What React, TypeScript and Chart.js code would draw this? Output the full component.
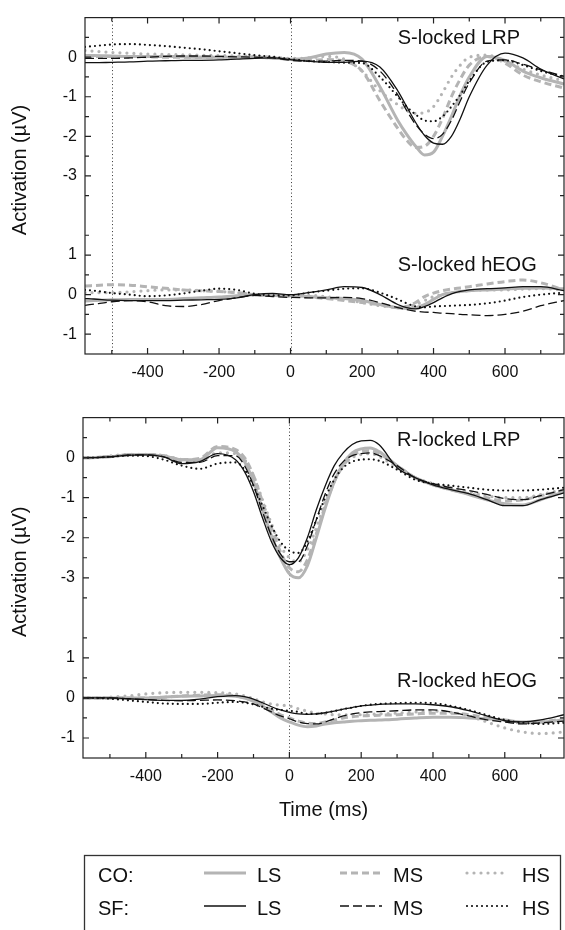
import React, { useEffect, useRef } from "react";
import { Chart, registerables } from "chart.js";

Chart.register(...registerables);

const FONT = '"Liberation Sans", Arial, Helvetica, sans-serif';
const INK = "#111111";
const GRAY = "#b4b4b4";

// ---------- axes ----------
const X_MIN = -575;
const X_MAX = 765;
const xTickLabels = [-400, -200, 0, 200, 400, 600];
const xMinorTicks = [-500, -300, -100, 100, 300, 500, 700];
const lrpTickLabels = [0, -1, -2, -3];
const lrpMinorTicks = [0.5, -0.5, -1.5, -2.5, -3.5];
const eogTickLabels = [1, 0, -1];
const eogMinorTicks = [1.5, 0.5, -0.5];
const EOG_SHIFT = -6; // hEOG traces are stacked 6 µV below the LRP traces on one axis

// ---------- S-locked data ----------
const tS = [-575, -550, -500, -450, -400, -350, -300, -250, -200, -150, -100, -50, 0, 50, 100, 150, 200, 250, 300, 325, 350, 375, 400, 425, 450, 475, 500, 550, 600, 650, 700, 765];

const sLrpCoLS = [0.04, 0.04, 0.03, 0.02, 0.02, 0.02, 0.01, 0.0, 0.0, 0.0, 0.0, -0.02, -0.05, -0.02, 0.08, 0.12, -0.05, -0.75, -1.6, -1.95, -2.25, -2.47, -2.4, -2.0, -1.5, -0.95, -0.5, 0.02, -0.08, -0.35, -0.52, -0.68];
const sLrpCoMS = [0.02, 0.02, 0.02, 0.02, 0.01, 0.0, 0.0, 0.0, 0.0, 0.0, 0.0, -0.02, -0.06, -0.08, -0.06, -0.1, -0.35, -1.1, -1.8, -2.1, -2.28, -2.25, -2.0, -1.55, -1.0, -0.55, -0.2, 0.02, -0.15, -0.45, -0.62, -0.78];
const sLrpCoHS = [0.17, 0.15, 0.12, 0.1, 0.08, 0.07, 0.06, 0.05, 0.04, 0.03, 0.02, 0.0, -0.03, -0.02, 0.02, -0.05, -0.35, -0.85, -1.2, -1.35, -1.42, -1.4, -1.25, -0.9, -0.5, -0.2, 0.0, 0.05, -0.1, -0.3, -0.45, -0.6];
const sLrpSfLS = [-0.14, -0.14, -0.13, -0.12, -0.1, -0.09, -0.08, -0.08, -0.07, -0.05, -0.03, -0.02, -0.06, -0.1, -0.13, -0.13, -0.1, -0.25, -0.85, -1.25, -1.65, -1.98, -2.17, -2.2, -2.0, -1.55, -1.0, -0.2, 0.1, -0.02, -0.3, -0.55];
const sLrpSfMS = [-0.03, -0.03, -0.03, -0.02, 0.0, 0.02, 0.03, 0.03, 0.02, 0.01, 0.0, -0.02, -0.08, -0.1, -0.1, -0.08, -0.1, -0.35, -0.95, -1.35, -1.7, -1.95, -2.06, -1.95, -1.6, -1.1, -0.65, -0.1, -0.07, -0.18, -0.32, -0.48];
const sLrpSfHS = [0.26, 0.28, 0.32, 0.33, 0.31, 0.28, 0.24, 0.2, 0.15, 0.1, 0.05, 0.01, -0.05, -0.1, -0.12, -0.14, -0.15, -0.5, -1.0, -1.25, -1.45, -1.6, -1.62, -1.5, -1.25, -0.95, -0.6, -0.12, -0.08, -0.2, -0.35, -0.5];

const sEogCoLS = [-0.16, -0.15, -0.13, -0.12, -0.12, -0.12, -0.1, -0.08, -0.06, -0.03, 0.0, -0.02, -0.03, -0.05, -0.08, -0.1, -0.15, -0.25, -0.33, -0.35, -0.33, -0.25, -0.12, 0.0, 0.05, 0.08, 0.1, 0.12, 0.14, 0.16, 0.17, 0.15];
const sEogCoMS = [0.22, 0.23, 0.25, 0.24, 0.2, 0.16, 0.12, 0.1, 0.08, 0.05, 0.0, -0.02, -0.04, -0.06, -0.1, -0.15, -0.2, -0.25, -0.33, -0.3, -0.2, -0.05, 0.04, 0.1, 0.14, 0.17, 0.2, 0.27, 0.33, 0.37, 0.3, 0.12];
const sEogCoHS = [0.05, 0.05, 0.05, 0.07, 0.1, 0.12, 0.12, 0.1, 0.08, 0.05, 0.0, -0.02, -0.03, -0.02, -0.05, -0.12, -0.2, -0.28, -0.32, -0.3, -0.25, -0.15, -0.05, 0.0, 0.05, 0.08, 0.1, 0.12, 0.12, 0.14, 0.15, 0.12];
const sEogSfLS = [-0.1, -0.11, -0.14, -0.15, -0.15, -0.15, -0.14, -0.13, -0.12, -0.08, 0.0, 0.03, 0.0, 0.05, 0.12, 0.2, 0.18, 0.0, -0.25, -0.33, -0.36, -0.3, -0.2, -0.08, 0.02, 0.08, 0.12, 0.15, 0.17, 0.2, 0.2, 0.1];
const sEogSfMS = [-0.27, -0.24, -0.18, -0.15, -0.18, -0.28, -0.3, -0.25, -0.15, -0.08, -0.02, -0.05, -0.07, -0.08, -0.08, -0.07, -0.1, -0.2, -0.33, -0.38, -0.42, -0.44, -0.45, -0.47, -0.48, -0.5, -0.51, -0.53, -0.5, -0.42, -0.28, -0.15];
const sEogSfHS = [0.12, 0.1, 0.04, 0.0, -0.04, -0.02, 0.03, 0.1, 0.15, 0.12, 0.02, -0.02, -0.02, 0.05, 0.1, 0.15, 0.16, 0.05, -0.12, -0.22, -0.3, -0.32, -0.3, -0.29, -0.28, -0.27, -0.26, -0.22, -0.15, -0.06, 0.0, 0.05];

// ---------- R-locked data ----------
const tR = [-575, -550, -500, -450, -400, -350, -300, -250, -200, -150, -125, -100, -75, -50, -25, 0, 25, 50, 75, 100, 125, 150, 175, 200, 225, 250, 300, 350, 400, 450, 500, 550, 600, 650, 700, 765];

const rLrpCoLS = [0, 0, 0.02, 0.07, 0.08, 0.04, -0.05, -0.05, 0.25, 0.15, -0.1, -0.6, -1.3, -1.95, -2.5, -2.9, -3.0, -2.7, -2.0, -1.25, -0.6, -0.15, 0.12, 0.22, 0.24, 0.15, -0.2, -0.5, -0.68, -0.8, -0.92, -1.05, -1.15, -1.18, -1.05, -0.85];
const rLrpCoMS = [0, 0, 0.03, 0.07, 0.08, 0.05, -0.05, -0.02, 0.28, 0.2, 0.0, -0.45, -1.1, -1.75, -2.35, -2.75, -2.85, -2.55, -1.9, -1.2, -0.6, -0.2, 0.05, 0.15, 0.17, 0.1, -0.2, -0.5, -0.68, -0.8, -0.9, -1.0, -1.08, -1.05, -0.95, -0.82];
const rLrpCoHS = [0, 0, 0.04, 0.08, 0.08, 0.05, -0.05, -0.08, 0.12, 0.1, -0.05, -0.45, -1.05, -1.65, -2.2, -2.5, -2.6, -2.3, -1.75, -1.1, -0.55, -0.2, 0.0, 0.08, 0.1, 0.03, -0.25, -0.5, -0.65, -0.75, -0.85, -0.95, -1.0, -1.0, -0.92, -0.8];
const rLrpSfLS = [0, 0, 0.02, 0.06, 0.07, 0.02, -0.15, -0.1, 0.1, -0.05, -0.35, -0.85, -1.5, -2.1, -2.5, -2.67, -2.5, -2.0, -1.3, -0.7, -0.2, 0.12, 0.33, 0.42, 0.43, 0.32, -0.25, -0.5, -0.68, -0.8, -0.9, -1.05, -1.2, -1.2, -1.05, -0.88];
const rLrpSfMS = [0, 0, 0.02, 0.06, 0.07, 0.02, -0.12, -0.12, 0.05, 0.05, -0.2, -0.7, -1.35, -1.95, -2.4, -2.6, -2.6, -2.2, -1.55, -0.9, -0.4, -0.1, 0.05, 0.1, 0.12, 0.05, -0.2, -0.5, -0.65, -0.75, -0.82, -0.92, -1.02, -1.05, -0.95, -0.8];
const rLrpSfHS = [0, 0, 0.02, 0.05, 0.04, -0.05, -0.2, -0.28, -0.15, -0.12, -0.3, -0.7, -1.2, -1.7, -2.1, -2.33, -2.38, -2.1, -1.55, -1.0, -0.55, -0.25, -0.1, -0.05, -0.04, -0.08, -0.3, -0.55, -0.65, -0.7, -0.75, -0.8, -0.82, -0.82, -0.8, -0.75];

const rEogCoLS = [0, 0, 0, 0, 0, 0.02, 0.04, 0.05, 0.06, 0.04, 0.0, -0.08, -0.2, -0.35, -0.5, -0.6, -0.68, -0.72, -0.7, -0.65, -0.62, -0.6, -0.58, -0.57, -0.56, -0.55, -0.53, -0.5, -0.48, -0.48, -0.5, -0.52, -0.55, -0.6, -0.6, -0.55];
const rEogCoMS = [0, 0, 0, 0, 0, 0.02, 0.05, 0.07, 0.08, 0.05, 0.0, -0.08, -0.18, -0.3, -0.42, -0.5, -0.58, -0.63, -0.64, -0.6, -0.55, -0.5, -0.47, -0.45, -0.44, -0.43, -0.42, -0.4, -0.38, -0.38, -0.42, -0.5, -0.58, -0.62, -0.6, -0.52];
const rEogCoHS = [0, 0, 0.02, 0.05, 0.1, 0.13, 0.14, 0.14, 0.13, 0.1, 0.05, -0.02, -0.1, -0.15, -0.18, -0.2, -0.27, -0.33, -0.38, -0.4, -0.42, -0.42, -0.42, -0.42, -0.41, -0.4, -0.38, -0.35, -0.33, -0.36, -0.45, -0.6, -0.75, -0.85, -0.89, -0.85];
const rEogSfLS = [0, 0, 0, -0.02, -0.04, -0.06, -0.06, -0.03, 0.03, 0.06, 0.03, -0.03, -0.12, -0.22, -0.3, -0.36, -0.4, -0.41, -0.4, -0.37, -0.33, -0.28, -0.24, -0.2, -0.18, -0.16, -0.15, -0.15, -0.17, -0.22, -0.32, -0.45, -0.57, -0.6, -0.55, -0.42];
const rEogSfMS = [0, 0, 0, -0.02, -0.04, -0.06, -0.07, -0.06, -0.05, -0.07, -0.1, -0.15, -0.25, -0.35, -0.45, -0.52, -0.6, -0.64, -0.65, -0.6, -0.52, -0.45, -0.4, -0.37, -0.35, -0.34, -0.32, -0.3, -0.3, -0.35, -0.45, -0.55, -0.6, -0.65, -0.62, -0.58];
const rEogSfHS = [0, 0, -0.02, -0.06, -0.1, -0.14, -0.15, -0.15, -0.12, -0.1, -0.12, -0.16, -0.22, -0.27, -0.3, -0.32, -0.35, -0.4, -0.4, -0.37, -0.33, -0.28, -0.24, -0.2, -0.17, -0.15, -0.13, -0.12, -0.13, -0.2, -0.3, -0.43, -0.55, -0.62, -0.65, -0.62];

// ---------- styles ----------
type Style = { color: string; width: number; dash: number[] };
const seriesStyle: Record<string, Style> = {
  coLS: { color: GRAY, width: 3, dash: [] },
  coMS: { color: GRAY, width: 3, dash: [7, 4] },
  coHS: { color: GRAY, width: 3.2, dash: [0, 7] },
  sfLS: { color: INK, width: 1.3, dash: [] },
  sfMS: { color: INK, width: 1.3, dash: [9, 4] },
  sfHS: { color: INK, width: 2.2, dash: [0, 5] },
};
const drawOrder = ["sfLS", "sfMS", "sfHS", "coLS", "coMS", "coHS"];

function makeDatasets(times: number[], lrp: Record<string, number[]>, eog: Record<string, number[]>) {
  const out: any[] = [];
  for (const key of drawOrder) {
    const st = seriesStyle[key];
    const dotted = st.dash.length > 0 && st.dash[0] === 0;
    const common = {
      borderColor: st.color,
      borderWidth: st.width,
      borderDash: st.dash,
      borderCapStyle: dotted ? "round" : "butt",
      borderJoinStyle: "round",
      pointRadius: 0,
      pointHoverRadius: 0,
      fill: false,
      cubicInterpolationMode: "monotone",
    };
    out.push({ ...common, label: key + " LRP", data: times.map((t, i) => ({ x: t, y: lrp[key][i] })) });
    out.push({ ...common, label: key + " hEOG", data: times.map((t, i) => ({ x: t, y: eog[key][i] + EOG_SHIFT })) });
  }
  return out;
}

const panelPlugin = {
  id: "panel",
  beforeDatasetsDraw(chart: any, _a: any, opts: any) {
    const { ctx, chartArea: a, scales } = chart;
    const x = scales.x;
    ctx.save();
    ctx.strokeStyle = "#333";
    ctx.lineWidth = 1;
    ctx.setLineDash([1, 2.5]);
    for (const v of opts.vlines) {
      const px = Math.round(x.getPixelForValue(v)) + 0.5;
      ctx.beginPath();
      ctx.moveTo(px, a.top);
      ctx.lineTo(px, a.bottom);
      ctx.stroke();
    }
    ctx.restore();
  },
  afterDraw(chart: any, _a: any, opts: any) {
    const { ctx, chartArea: a, scales } = chart;
    const x = scales.x;
    const y = scales.y;
    ctx.save();
    ctx.strokeStyle = "#222";
    ctx.lineWidth = 1.2;
    ctx.setLineDash([]);
    ctx.strokeRect(a.left, a.top, a.right - a.left, a.bottom - a.top);
    ctx.beginPath();
    const xt: number[][] = [...xTickLabels.map((v) => [v, 6]), ...xMinorTicks.map((v) => [v, 4])];
    for (const [v, len] of xt) {
      const px = x.getPixelForValue(v);
      ctx.moveTo(px, a.bottom);
      ctx.lineTo(px, a.bottom - len);
      ctx.moveTo(px, a.top);
      ctx.lineTo(px, a.top + len);
    }
    const yt: number[][] = [
      ...lrpTickLabels.map((v) => [v, 6]),
      ...lrpMinorTicks.map((v) => [v, 4]),
      ...eogTickLabels.map((v) => [v + EOG_SHIFT, 6]),
      ...eogMinorTicks.map((v) => [v + EOG_SHIFT, 4]),
    ];
    for (const [v, len] of yt) {
      const py = y.getPixelForValue(v);
      ctx.moveTo(a.left, py);
      ctx.lineTo(a.left + len, py);
      ctx.moveTo(a.right, py);
      ctx.lineTo(a.right - len, py);
    }
    ctx.stroke();

    ctx.fillStyle = INK;
    ctx.font = `20px ${FONT}`;
    ctx.textAlign = "left";
    ctx.textBaseline = "middle";
    const tx = x.getPixelForValue(opts.titleX);
    ctx.fillText(opts.lrpTitle, tx, y.getPixelForValue(opts.lrpTitleY));
    ctx.fillText(opts.eogTitle, tx, y.getPixelForValue(opts.eogTitleY + EOG_SHIFT));

    ctx.translate(opts.yTitleX, y.getPixelForValue(opts.yTitleY));
    ctx.rotate(-Math.PI / 2);
    ctx.textAlign = "center";
    ctx.fillText("Activation (\u00b5V)", 0, 0);
    ctx.restore();
  },
};

function makeConfig(p: any): any {
  return {
    type: "line",
    data: { datasets: makeDatasets(p.times, p.lrp, p.eog) },
    plugins: [panelPlugin],
    options: {
      responsive: false,
      maintainAspectRatio: false,
      animation: false,
      events: [],
      layout: { padding: { top: p.padTop, right: 1, left: 0, bottom: 0 } },
      plugins: {
        legend: { display: false },
        tooltip: { enabled: false },
        panel: {
          vlines: p.vlines,
          lrpTitle: p.lrpTitle,
          eogTitle: p.eogTitle,
          titleX: 300,
          lrpTitleY: p.lrpTitleY,
          eogTitleY: p.eogTitleY,
          yTitleX: 20,
          yTitleY: -2.85,
        },
      },
      scales: {
        x: {
          type: "linear",
          min: X_MIN,
          max: X_MAX,
          grid: { display: false, drawTicks: false },
          border: { display: false },
          afterBuildTicks: (s: any) => {
            s.ticks = xTickLabels.map((v) => ({ value: v }));
          },
          afterFit: (s: any) => {
            s.height = p.xHeight;
          },
          ticks: {
            autoSkip: false,
            maxRotation: 0,
            minRotation: 0,
            padding: 9,
            color: INK,
            font: { family: FONT, size: 16 },
            callback: (v: any) => String(v),
          },
          title: {
            display: p.showXTitle,
            text: "Time (ms)",
            color: INK,
            font: { family: FONT, size: 20 },
            padding: { top: 0, bottom: 8 },
          },
        },
        y: {
          type: "linear",
          min: -7.5,
          max: 1,
          grid: { display: false, drawTicks: false },
          border: { display: false },
          afterBuildTicks: (s: any) => {
            s.ticks = [...lrpTickLabels, ...eogTickLabels.map((v) => v + EOG_SHIFT)].map((v) => ({ value: v }));
          },
          afterFit: (s: any) => {
            s.width = p.yWidth;
          },
          ticks: {
            autoSkip: false,
            padding: 8,
            color: INK,
            font: { family: FONT, size: 16 },
            callback: (v: any) => String(v > -4 ? v : v - EOG_SHIFT),
          },
        },
      },
    },
  };
}

const legendGroups = [
  { name: "CO:", keys: ["coLS", "coMS", "coHS"], cy: 875 },
  { name: "SF:", keys: ["sfLS", "sfMS", "sfHS"], cy: 908 },
];
const legendConditions = ["LS", "MS", "HS"];
const legendLineX = [204, 340, 467];
const legendTextX = [257, 393, 522];

export default function App() {
  const topRef = useRef<HTMLCanvasElement>(null);
  const botRef = useRef<HTMLCanvasElement>(null);

  useEffect(() => {
    const c1 = new Chart(
      topRef.current as HTMLCanvasElement,
      makeConfig({
        times: tS,
        lrp: { coLS: sLrpCoLS, coMS: sLrpCoMS, coHS: sLrpCoHS, sfLS: sLrpSfLS, sfMS: sLrpSfMS, sfHS: sLrpSfHS },
        eog: { coLS: sEogCoLS, coMS: sEogCoMS, coHS: sEogCoHS, sfLS: sEogSfLS, sfMS: sEogSfMS, sfHS: sEogSfHS },
        vlines: [-500, 0],
        lrpTitle: "S-locked LRP",
        eogTitle: "S-locked hEOG",
        lrpTitleY: 0.46,
        eogTitleY: 0.74,
        padTop: 10,
        xHeight: 46,
        yWidth: 85,
        showXTitle: false,
      })
    );
    const c2 = new Chart(
      botRef.current as HTMLCanvasElement,
      makeConfig({
        times: tR,
        lrp: { coLS: rLrpCoLS, coMS: rLrpCoMS, coHS: rLrpCoHS, sfLS: rLrpSfLS, sfMS: rLrpSfMS, sfHS: rLrpSfHS },
        eog: { coLS: rEogCoLS, coMS: rEogCoMS, coHS: rEogCoHS, sfLS: rEogSfLS, sfMS: rEogSfMS, sfHS: rEogSfHS },
        vlines: [0],
        lrpTitle: "R-locked LRP",
        eogTitle: "R-locked hEOG",
        lrpTitleY: 0.43,
        eogTitleY: 0.4,
        padTop: 14,
        xHeight: 72,
        yWidth: 83,
        showXTitle: true,
      })
    );
    return () => {
      c1.destroy();
      c2.destroy();
    };
  }, []);

  return (
    <div style={{ position: "absolute", left: 0, top: 0, width: 565, height: 930, overflow: "hidden", background: "#fff" }}>
      <canvas ref={topRef} width={565} height={400} style={{ position: "absolute", left: 0, top: 0, width: 565, height: 400 }} />
      <canvas ref={botRef} width={565} height={430} style={{ position: "absolute", left: 0, top: 400, width: 565, height: 430 }} />
      <svg width={565} height={930} style={{ position: "absolute", left: 0, top: 0 }}>
        <rect x={84.5} y={855.5} width={476} height={90} fill="none" stroke="#333" strokeWidth={1.3} />
        {legendGroups.map((g) => (
          <g key={g.name}>
            <text x={98} y={g.cy + 7} fontFamily={FONT} fontSize={20} fill={INK}>
              {g.name}
            </text>
            {g.keys.map((k, i) => {
              const st = seriesStyle[k];
              const dotted = st.dash.length > 0 && st.dash[0] === 0;
              return (
                <g key={k}>
                  <line
                    x1={legendLineX[i]}
                    x2={legendLineX[i] + 42}
                    y1={g.cy - 2}
                    y2={g.cy - 2}
                    stroke={st.color}
                    strokeWidth={st.width}
                    strokeDasharray={st.dash.length ? st.dash.join(" ") : undefined}
                    strokeLinecap={dotted ? "round" : "butt"}
                  />
                  <text x={legendTextX[i]} y={g.cy + 7} fontFamily={FONT} fontSize={20} fill={INK}>
                    {legendConditions[i]}
                  </text>
                </g>
              );
            })}
          </g>
        ))}
      </svg>
    </div>
  );
}
